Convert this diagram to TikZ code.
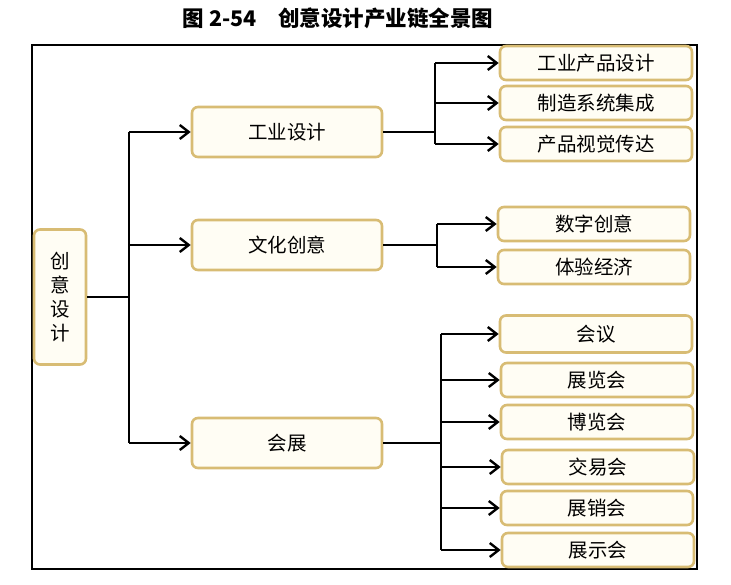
\documentclass[tikz,border=0pt]{standalone}
\usepackage{fontspec}
\newfontfamily\cjk{Noto Sans CJK SC}
\usetikzlibrary{arrows.meta}

\definecolor{boxgold}{RGB}{216,188,116}
\definecolor{boxfill}{RGB}{255,253,244}

\begin{document}
\begin{tikzpicture}[x=1pt,y=-1pt,
    font=\cjk\fontsize{19.5}{23}\selectfont,
    box/.style={draw=boxgold,fill=boxfill,line width=2.6pt,rounded corners=6pt,inner sep=0pt},
    field/.style={box,minimum width=190pt,minimum height=50pt},
    leaf/.style={box,minimum width=192pt,minimum height=34pt},
    link/.style={line width=2.6pt},
    arrow/.style={link,-{Straight Barb[length=9pt,width=14pt,line width=2.4pt]}},
    ]
    \useasboundingbox (0,0) rectangle (731,585);

    % title and frame
    \node[font=\cjk\bfseries\fontsize{21.5}{25}\selectfont] (title) at (338,18) {图 2-54\quad 创意设计产业链全景图};
    \draw[line width=1.5pt] (32,45) rectangle (697,569);

    % root
    \node[box,minimum width=52pt,minimum height=135pt,align=center] (root) at (60,297)
        {创\\[1pt]意\\[1pt]设\\[1pt]计};

    % fields
    \node[field] (ind) at (287,132) {工业设计};
    \node[field] (cul) at (287,245) {文化创意};
    \node[field] (exh) at (287,443) {会展};

    % leaves
    \node[leaf] (ind1) at (596,63)  {工业产品设计};
    \node[leaf] (ind2) at (596,103) {制造系统集成};
    \node[leaf] (ind3) at (596,144) {产品视觉传达};
    \node[leaf] (cul1) at (594,224) {数字创意};
    \node[leaf] (cul2) at (594,267) {体验经济};
    \node[leaf,minimum height=37pt] (exh1) at (596,334) {会议};
    \node[leaf] (exh2) at (597,380) {展览会};
    \node[leaf] (exh3) at (597,422) {博览会};
    \node[leaf] (exh4) at (598,467) {交易会};
    \node[leaf] (exh5) at (597,508) {展销会};
    \node[leaf] (exh6) at (598,550) {展示会};

    % root to fields
    \draw[link] (root.east) -- (129,297) coordinate (trunk);
    \draw[link] (trunk |- ind.west) -- (trunk |- exh.west);
    \foreach \f in {ind,cul,exh}
        \draw[arrow] (trunk |- \f.west) -- (\f.west);

    % fields to leaves
    \draw[link] (ind.east) -- (435,132) coordinate (indfork);
    \draw[link] (indfork |- ind1.west) -- (indfork |- ind3.west);
    \foreach \l in {ind1,ind2,ind3}
        \draw[arrow] (indfork |- \l.west) -- (\l.west);

    \draw[link] (cul.east) -- (437,245) coordinate (culfork);
    \draw[link] (culfork |- cul1.west) -- (culfork |- cul2.west);
    \foreach \l in {cul1,cul2}
        \draw[arrow] (culfork |- \l.west) -- (\l.west);

    \draw[link] (exh.east) -- (441,443) coordinate (exhfork);
    \draw[link] (exhfork |- exh1.west) -- (exhfork |- exh6.west);
    \foreach \l in {exh1,exh2,exh3,exh4,exh5,exh6}
        \draw[arrow] (exhfork |- \l.west) -- (\l.west);
\end{tikzpicture}
\end{document}
